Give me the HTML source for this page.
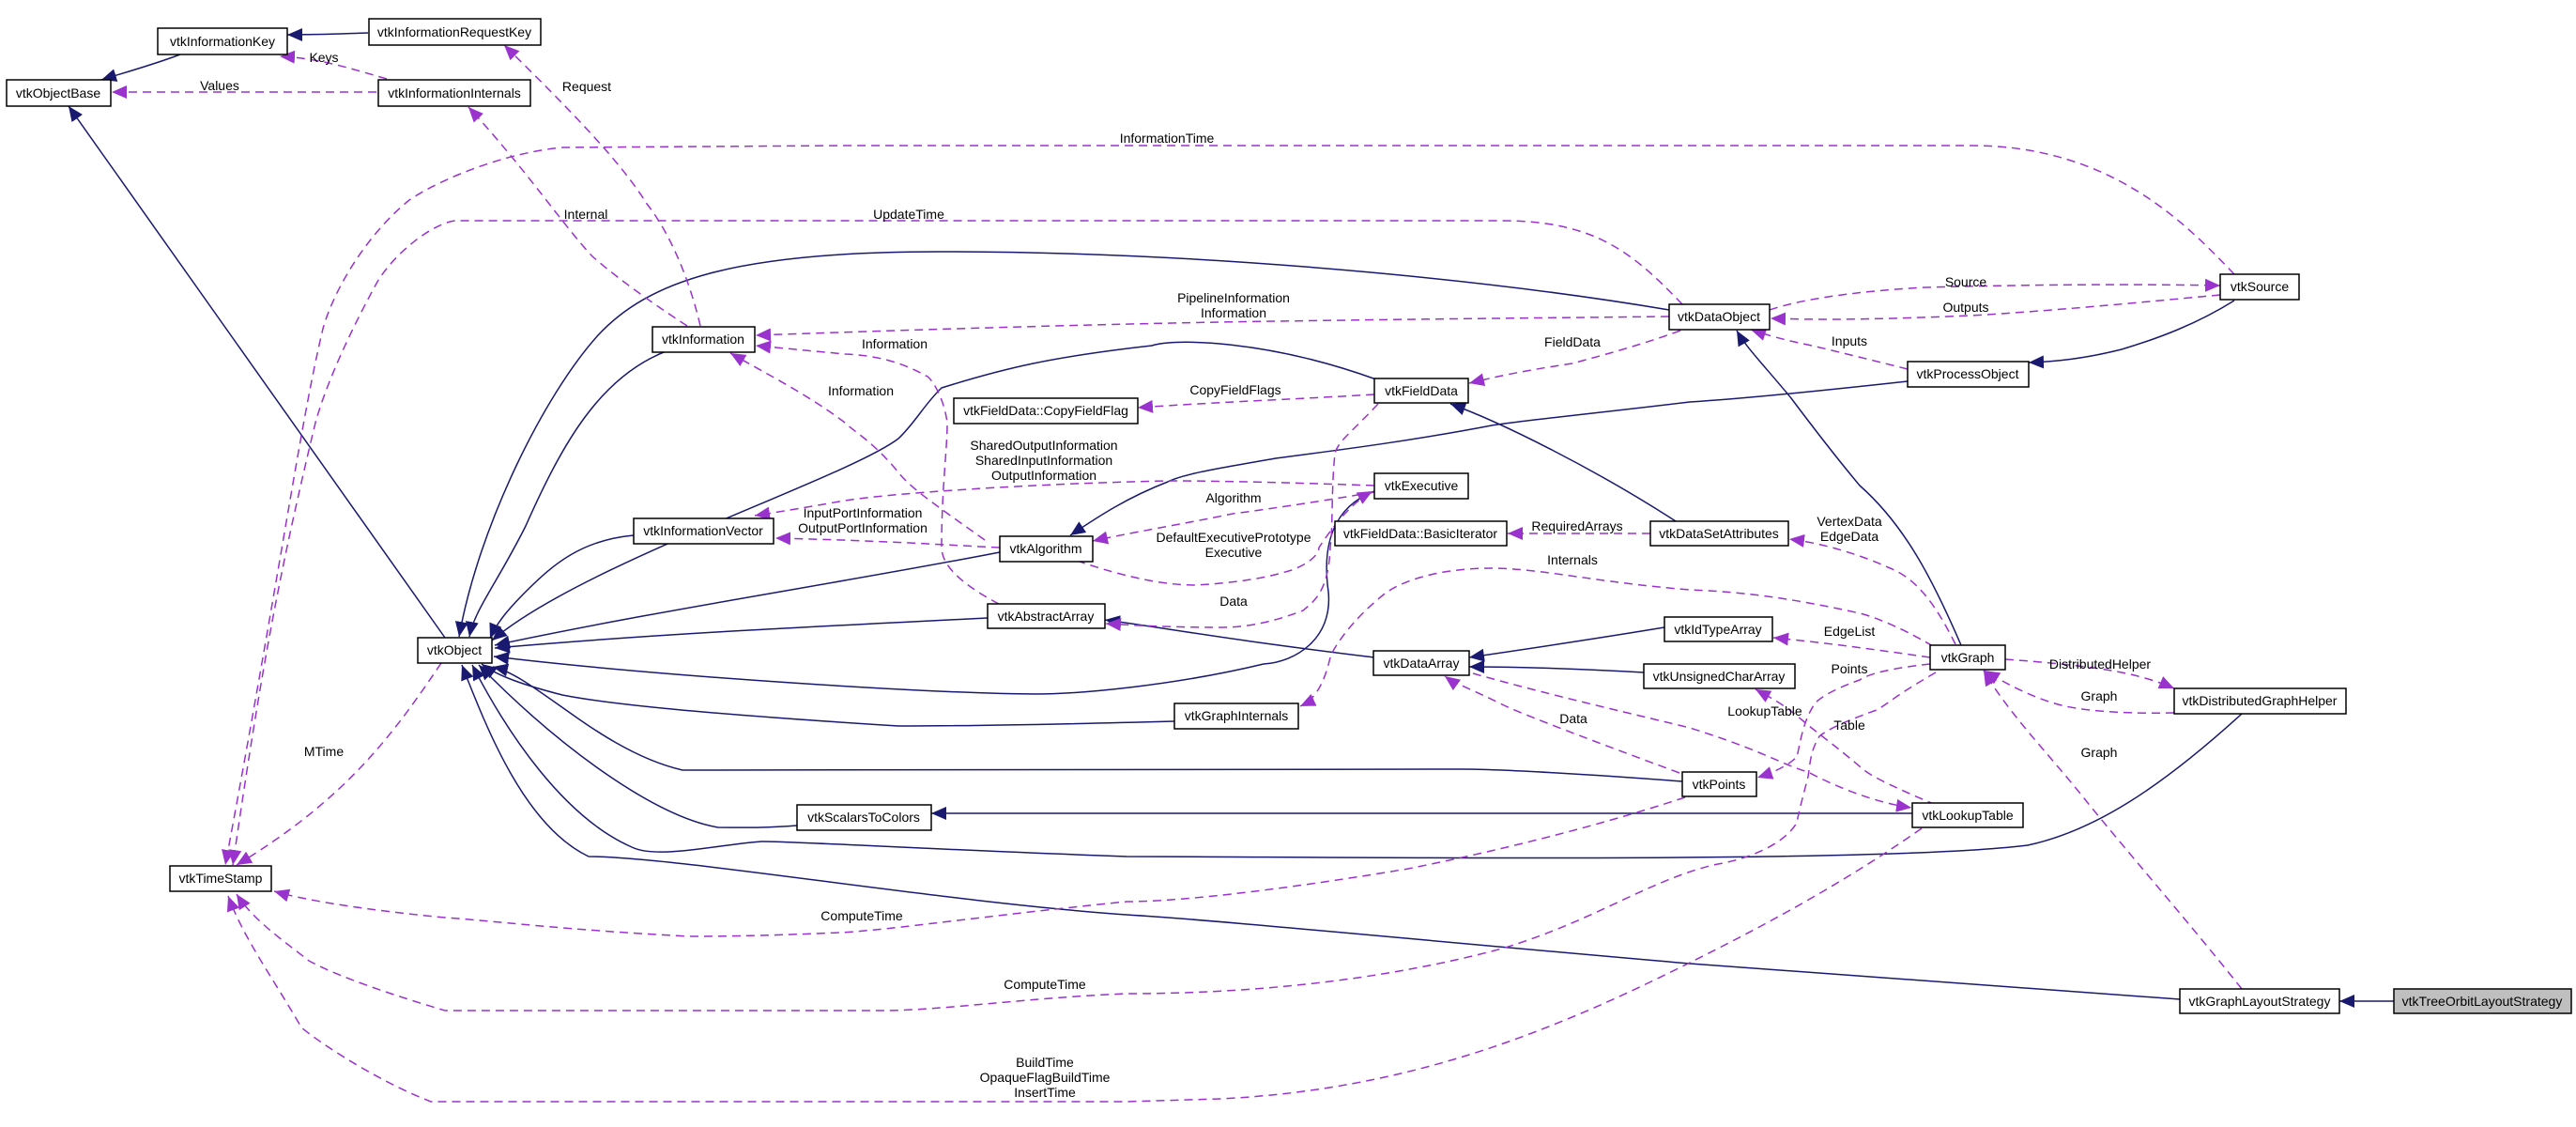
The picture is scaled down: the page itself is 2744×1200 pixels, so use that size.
<!DOCTYPE html>
<html><head><meta charset="utf-8"><style>
html,body{margin:0;padding:0;background:#fff;}
svg{display:block;}
text{font-family:"Liberation Sans",sans-serif;font-size:14px;fill:#000;}
.b{fill:#fff;stroke:#000;stroke-width:1.5;}
.n{fill:none;stroke:#191970;stroke-width:1.5;}
.p{fill:none;stroke:#9a32cd;stroke-width:1.5;stroke-dasharray:9,6;}
</style></head><body>
<svg width="2744" height="1200" viewBox="0 0 2744 1200" xmlns="http://www.w3.org/2000/svg">
<defs>
<marker id="an" markerUnits="userSpaceOnUse" markerWidth="18" markerHeight="14" refX="16" refY="7" orient="auto"><path d="M0,0 L16,7 L0,14 z" fill="#191970"/></marker>
<marker id="ap" markerUnits="userSpaceOnUse" markerWidth="18" markerHeight="14" refX="16" refY="7" orient="auto"><path d="M0,0 L16,7 L0,14 z" fill="#9a32cd"/></marker>
</defs>

<!-- solid inheritance edges -->
<g class="n" marker-end="url(#an)">
<path d="M192,58 C160,70 130,78 108,85"/>
<path d="M392,35 C360,36 340,37 306,37"/>
<path d="M474,679 L73,113"/>
<path d="M712,373 C640,400 600,470 560,560 C530,620 505,650 500,678"/>
<path d="M1778,330 C1600,300 1300,268 1000,268 C780,268 690,300 637,357 C580,420 510,560 489,678"/>
<path d="M1466,404 C1350,362 1250,360 1227,368 C1120,380 1070,392 1003,413 C985,430 975,450 957,467 C900,510 620,600 524,682"/>
<path d="M675,570 C620,575 590,600 560,630 C540,650 528,665 522,680"/>
<path d="M1065,588 C900,620 700,650 527,687"/>
<path d="M1052,658 C850,668 700,675 527,690"/>
<path d="M1464,523 C1420,540 1408,580 1415,630 C1420,680 1380,705 1346,707 C1250,730 1150,739 1103,739 C1000,739 700,720 526,699"/>
<path d="M1464,700 C1300,680 1250,670 1177,660"/>
<path d="M1251,768 C1100,772 1000,773 957,773 C750,760 650,750 599,740 C560,730 530,720 513,707"/>
<path d="M1792,832 C1700,825 1600,819 1559,819 L727,820 C640,800 570,720 525,710"/>
<path d="M849,879 C810,882 790,881 765,881 C700,870 600,800 510,708"/>
<path d="M2037,866 L992,866"/>
<path d="M2388,760 C2300,840 2230,885 2160,900 C2000,920 1400,912 1200,912 C1000,905 830,895 811,896 C760,900 700,915 673,902 C600,870 540,780 503,708"/>
<path d="M2322,1064 L1800,1026 C1500,1000 1300,980 1200,974 C1000,960 720,912 627,912 C560,880 520,780 492,708"/>
<path d="M2550,1066 L2492,1066"/>
<path d="M2089,687 C2060,620 2030,560 1981,517 C1950,480 1920,440 1908,424 C1880,390 1860,370 1850,352"/>
<path d="M1785,555 C1700,500 1600,450 1545,430"/>
<path d="M2032,406 C1950,415 1850,425 1800,428 C1700,440 1620,448 1589,453 C1500,470 1420,480 1359,488 C1290,500 1260,505 1244,513 C1200,530 1170,550 1140,570"/>
<path d="M2380,320 C2340,345 2300,360 2260,372 C2220,382 2190,385 2161,386"/>
<path d="M1773,668 C1700,680 1620,692 1565,700"/>
<path d="M1751,716 C1680,712 1620,710 1565,710"/>
</g>

<!-- dashed usage edges -->
<g class="p" marker-end="url(#ap)">
<path d="M412,84 C370,72 340,62 298,60"/>
<path d="M401,98 L119,98"/>
<path d="M746,347 C735,300 715,250 689,217 C660,170 600,110 537,48"/>
<path d="M732,347 C690,320 650,290 631,273 C600,240 560,180 499,114"/>
<path d="M2380,292 C2330,240 2250,155 2100,155 L900,155 L600,157 C540,162 470,190 436,213 C390,250 355,310 344,350 C320,450 300,600 240,921"/>
<path d="M1792,324 C1740,270 1700,235 1600,235 L485,235 C460,238 420,270 402,300 C380,340 350,400 336,450 C300,600 280,700 248,921"/>
<path d="M1778,337 C1600,339 1474,340 1300,343 C1187,345 1000,350 805,357"/>
<path d="M1064,643 C1020,620 1003,600 1003,583 C1003,520 1009,480 1009,450 C1005,420 990,400 986,400 C960,385 930,378 900,377 L805,368"/>
<path d="M1049,575 C1000,540 970,520 957,503 C930,470 910,460 900,450 C860,420 820,400 778,376"/>
<path d="M1790,352 C1740,370 1700,380 1675,387 C1620,395 1590,402 1565,408"/>
<path d="M1464,420 C1400,424 1300,428 1212,434"/>
<path d="M1464,517 C1380,514 1300,512 1244,512 C1100,515 950,525 900,533 C860,540 830,545 804,549"/>
<path d="M1065,583 C1000,580 950,576 826,573"/>
<path d="M1464,524 C1400,535 1330,545 1313,547 C1260,558 1200,568 1164,576"/>
<path d="M1147,597 C1200,615 1240,623 1273,623 C1330,620 1360,612 1376,607 C1395,600 1405,590 1405,583 C1420,560 1440,535 1462,523"/>
<path d="M1468,430 C1440,460 1425,470 1422,483 C1418,520 1420,560 1417,583 C1415,630 1400,640 1388,650 C1350,665 1320,668 1302,668 C1250,668 1210,666 1178,664"/>
<path d="M1758,568 L1606,568"/>
<path d="M2083,686 C2060,640 2040,615 2011,604 C1980,590 1940,578 1906,574"/>
<path d="M2059,688 C2020,665 1990,655 1981,653 C1900,635 1850,630 1800,628 C1700,620 1640,605 1589,605 C1530,605 1490,620 1474,633 C1440,660 1420,690 1417,700 C1410,730 1400,745 1385,752"/>
<path d="M2056,700 C2000,692 1950,685 1889,679"/>
<path d="M2056,707 C2010,712 1990,718 1981,724 C1950,735 1935,745 1932,751 C1920,770 1918,790 1914,806 C1905,815 1890,822 1872,828"/>
<path d="M2062,716 C2020,740 2010,750 1999,756 C1960,770 1945,778 1938,784 C1928,800 1928,815 1926,827 C1920,850 1916,865 1914,876 C1900,900 1860,915 1830,920 C1760,935 1700,980 1600,1010 C1450,1050 1300,1058 1200,1058 C1100,1062 1000,1076 941,1076 L474,1076 C420,1060 360,1040 329,1023 C300,1000 270,980 252,952"/>
<path d="M1795,849 C1700,880 1600,905 1500,925 C1350,950 1250,960 1200,960 C1050,975 950,990 895,993 C800,997 760,997 734,997 C600,990 520,980 474,977 C400,970 330,960 292,949"/>
<path d="M2047,882 C1950,950 1850,1000 1800,1025 C1650,1100 1500,1160 1300,1170 L1200,1173 L459,1173 C400,1150 340,1110 321,1094 C290,1040 260,1000 243,954"/>
<path d="M470,706 C420,780 370,850 252,921"/>
<path d="M2062,857 C2010,835 1990,825 1981,816 C1950,790 1935,780 1920,767 C1900,750 1890,745 1870,734"/>
<path d="M1569,717 C1650,740 1760,765 1800,775 C1880,800 1900,815 1926,822 C1960,840 2000,855 2036,860"/>
<path d="M1789,823 C1700,790 1620,760 1600,750 C1570,735 1550,728 1539,720"/>
<path d="M2136,702 C2180,705 2230,710 2260,716 C2280,720 2300,726 2316,733"/>
<path d="M2316,759 C2270,760 2230,758 2200,752 C2170,745 2140,730 2114,714"/>
<path d="M2388,1053 C2330,980 2260,900 2220,850 C2180,800 2140,760 2113,714"/>
<path d="M2032,393 C2000,385 1960,375 1930,368 C1900,362 1880,356 1865,351"/>
<path d="M1885,330 C1920,318 1980,310 2050,306 C2200,302 2300,303 2365,304"/>
<path d="M2365,314 C2300,320 2200,330 2100,336 C2000,340 1950,341 1886,339"/>
</g>

<!-- boxes -->
<g>
<rect class="b" x="168" y="30" width="138" height="28"/><text x="237" y="49" text-anchor="middle">vtkInformationKey</text>
<rect class="b" x="393" y="20" width="183" height="28"/><text x="484" y="39" text-anchor="middle">vtkInformationRequestKey</text>
<rect class="b" x="7" y="85" width="111" height="28"/><text x="62" y="104" text-anchor="middle">vtkObjectBase</text>
<rect class="b" x="403" y="85" width="162" height="28"/><text x="484" y="104" text-anchor="middle">vtkInformationInternals</text>
<rect class="b" x="695" y="348" width="109" height="27"/><text x="749" y="366" text-anchor="middle">vtkInformation</text>
<rect class="b" x="1778" y="324" width="107" height="27"/><text x="1831" y="342" text-anchor="middle">vtkDataObject</text>
<rect class="b" x="2365" y="292" width="84" height="27"/><text x="2407" y="310" text-anchor="middle">vtkSource</text>
<rect class="b" x="2032" y="385" width="129" height="27"/><text x="2096" y="403" text-anchor="middle">vtkProcessObject</text>
<rect class="b" x="1464" y="403" width="100" height="26"/><text x="1514" y="421" text-anchor="middle">vtkFieldData</text>
<rect class="b" x="1016" y="424" width="196" height="27"/><text x="1114" y="442" text-anchor="middle">vtkFieldData::CopyFieldFlag</text>
<rect class="b" x="1464" y="504" width="100" height="27"/><text x="1514" y="522" text-anchor="middle">vtkExecutive</text>
<rect class="b" x="675" y="552" width="149" height="27"/><text x="749" y="570" text-anchor="middle">vtkInformationVector</text>
<rect class="b" x="1065" y="571" width="99" height="27"/><text x="1114" y="589" text-anchor="middle">vtkAlgorithm</text>
<rect class="b" x="1422" y="555" width="183" height="26"/><text x="1513" y="573" text-anchor="middle">vtkFieldData::BasicIterator</text>
<rect class="b" x="1758" y="555" width="147" height="26"/><text x="1831" y="573" text-anchor="middle">vtkDataSetAttributes</text>
<rect class="b" x="1052" y="643" width="125" height="26"/><text x="1114" y="661" text-anchor="middle">vtkAbstractArray</text>
<rect class="b" x="445" y="679" width="79" height="27"/><text x="484" y="697" text-anchor="middle">vtkObject</text>
<rect class="b" x="1463" y="693" width="102" height="26"/><text x="1514" y="711" text-anchor="middle">vtkDataArray</text>
<rect class="b" x="1773" y="657" width="115" height="26"/><text x="1830" y="675" text-anchor="middle">vtkIdTypeArray</text>
<rect class="b" x="2056" y="687" width="80" height="26"/><text x="2096" y="705" text-anchor="middle">vtkGraph</text>
<rect class="b" x="1751" y="707" width="161" height="26"/><text x="1831" y="725" text-anchor="middle">vtkUnsignedCharArray</text>
<rect class="b" x="2316" y="733" width="183" height="27"/><text x="2407" y="751" text-anchor="middle">vtkDistributedGraphHelper</text>
<rect class="b" x="1251" y="749" width="132" height="27"/><text x="1317" y="767" text-anchor="middle">vtkGraphInternals</text>
<rect class="b" x="1792" y="822" width="79" height="26"/><text x="1831" y="840" text-anchor="middle">vtkPoints</text>
<rect class="b" x="849" y="857" width="143" height="27"/><text x="920" y="875" text-anchor="middle">vtkScalarsToColors</text>
<rect class="b" x="2037" y="855" width="118" height="26"/><text x="2096" y="873" text-anchor="middle">vtkLookupTable</text>
<rect class="b" x="181" y="922" width="108" height="27"/><text x="235" y="940" text-anchor="middle">vtkTimeStamp</text>
<rect class="b" x="2322" y="1053" width="170" height="26"/><text x="2407" y="1071" text-anchor="middle">vtkGraphLayoutStrategy</text>
<rect x="2550" y="1053" width="189" height="26" fill="#bfbfbf" stroke="#000" stroke-width="1.5"/><text x="2644" y="1071" text-anchor="middle">vtkTreeOrbitLayoutStrategy</text>
</g>

<!-- edge labels -->
<g text-anchor="middle">
<text x="345" y="66">Keys</text>
<text x="234" y="96">Values</text>
<text x="625" y="97">Request</text>
<text x="624" y="233">Internal</text>
<text x="1243" y="152">InformationTime</text>
<text x="968" y="233">UpdateTime</text>
<text x="1314" y="322">PipelineInformation</text>
<text x="1314" y="338">Information</text>
<text x="1675" y="369">FieldData</text>
<text x="953" y="371">Information</text>
<text x="917" y="421">Information</text>
<text x="1316" y="420">CopyFieldFlags</text>
<text x="1112" y="479">SharedOutputInformation</text>
<text x="1112" y="495">SharedInputInformation</text>
<text x="1112" y="511">OutputInformation</text>
<text x="1314" y="535">Algorithm</text>
<text x="919" y="551">InputPortInformation</text>
<text x="919" y="567">OutputPortInformation</text>
<text x="1314" y="577">DefaultExecutivePrototype</text>
<text x="1314" y="593">Executive</text>
<text x="1314" y="645">Data</text>
<text x="1680" y="565">RequiredArrays</text>
<text x="1675" y="601">Internals</text>
<text x="1970" y="560">VertexData</text>
<text x="1970" y="576">EdgeData</text>
<text x="1970" y="677">EdgeList</text>
<text x="1970" y="717">Points</text>
<text x="2237" y="712">DistributedHelper</text>
<text x="2236" y="746">Graph</text>
<text x="1880" y="762">LookupTable</text>
<text x="1676" y="770">Data</text>
<text x="1970" y="777">Table</text>
<text x="2236" y="806">Graph</text>
<text x="345" y="805">MTime</text>
<text x="918" y="980">ComputeTime</text>
<text x="1113" y="1053">ComputeTime</text>
<text x="1113" y="1136">BuildTime</text>
<text x="1113" y="1152">OpaqueFlagBuildTime</text>
<text x="1113" y="1168">InsertTime</text>
<text x="2094" y="305">Source</text>
<text x="2094" y="332">Outputs</text>
<text x="1970" y="368">Inputs</text>
</g>
</svg>
</body></html>
